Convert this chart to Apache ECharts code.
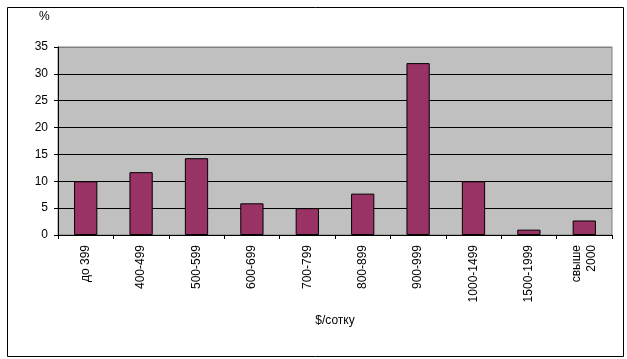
<!DOCTYPE html>
<html><head><meta charset="utf-8">
<script src="https://cdn.jsdelivr.net/npm/echarts@6/dist/echarts.min.js"></script>
<style>html,body{margin:0;padding:0;background:#fff}#c{width:627px;height:359px}</style>
</head><body><div id="c"></div>
<script>
const categories = ['до 399','400-499','500-599','600-699','700-799','800-899','900-999','1000-1499','1500-1999','свыше\n2000'];
const values = [10, 11.7, 14.3, 5.9, 5, 7.7, 32, 10, 1, 2.7];
const yTicks = {min: 0, max: 35, interval: 5};
const xName = '$/сотку';
const yName = '%';

const chart = echarts.init(document.getElementById('c'));
const font = 'Liberation Sans, Arial, sans-serif';
chart.setOption({
  animation: false,
  backgroundColor: '#fff',
  grid: {left: 58, right: 15, top: 47, bottom: 124, show: true, backgroundColor: '#C0C0C0', borderColor: '#808080', borderWidth: 1},
  graphic: [
    {type: 'rect', left: 5, top: 5, shape: {width: 616, height: 349}, style: {fill: null, stroke: '#000', lineWidth: 1}, silent: true},
    {type: 'text', left: 39, top: 11, style: {text: yName, font: '12px ' + font, fill: '#000'}}
  ],
  xAxis: {
    type: 'category', data: categories,
    name: xName, nameLocation: 'middle', nameGap: 80,
    nameTextStyle: {fontFamily: font, fontSize: 12, color: '#000'},
    axisLine: {lineStyle: {color: '#000', width: 1}},
    axisTick: {show: true, length: 4, lineStyle: {color: '#000'}},
    axisLabel: {rotate: 90, margin: 10, fontFamily: font, fontSize: 12, color: '#000', lineHeight: 15, interval: 0}
  },
  yAxis: {
    type: 'value', min: yTicks.min, max: yTicks.max, interval: yTicks.interval,
    axisLine: {show: true, lineStyle: {color: '#000', width: 1}},
    axisTick: {show: true, length: 4, lineStyle: {color: '#000'}},
    axisLabel: {margin: 10, fontFamily: font, fontSize: 12, color: '#000'},
    splitLine: {show: true, lineStyle: {color: ['#000','#000','#000','#000','#000','#000','#000','#808080'], width: 1}}
  },
  series: [{
    type: 'bar', data: values, barCategoryGap: '58%',
    itemStyle: {color: '#993366', borderColor: '#000', borderWidth: 1}
  }]
});
</script></body></html>
